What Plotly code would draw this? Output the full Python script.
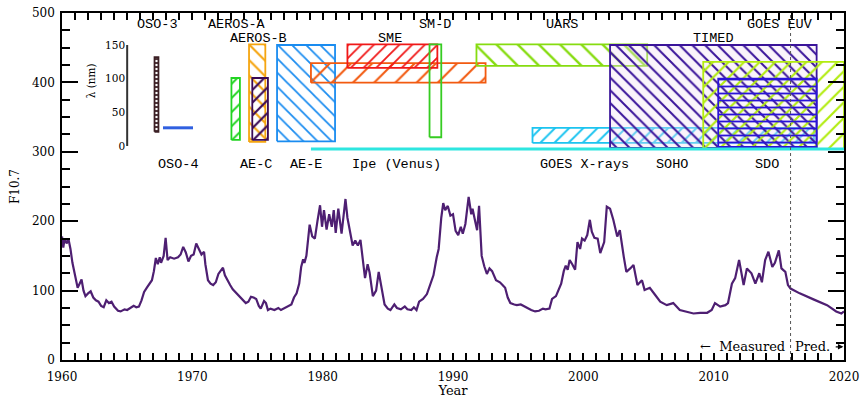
import plotly.graph_objects as go

# F10.7 solar radio flux, 1960-2020 (values after 2015.9 are the prediction)
f107_year = [
    1960.0, 1960.1, 1960.2, 1960.35, 1960.5, 1960.65, 1960.8, 1961.0, 1961.2, 1961.35,
    1961.5, 1961.65, 1961.8, 1962.0, 1962.2, 1962.4, 1962.6, 1962.8, 1963.0, 1963.2,
    1963.4, 1963.6, 1963.8, 1964.0, 1964.3, 1964.5, 1964.8, 1965.0, 1965.3, 1965.5,
    1965.7, 1965.9, 1966.1, 1966.3, 1966.5, 1966.7, 1966.9, 1967.05, 1967.2, 1967.35,
    1967.5, 1967.6, 1967.8, 1967.95, 1968.1, 1968.3, 1968.6, 1968.9, 1969.1, 1969.3,
    1969.5, 1969.7, 1969.9, 1970.1, 1970.3, 1970.5, 1970.7, 1970.9, 1971.0, 1971.2,
    1971.4, 1971.6, 1971.8, 1972.0, 1972.2, 1972.35, 1972.5, 1972.7, 1972.9, 1973.1,
    1973.3, 1973.5, 1973.7, 1973.9, 1974.1, 1974.3, 1974.5, 1974.7, 1974.9, 1975.1,
    1975.25, 1975.5, 1975.65, 1975.8, 1976.0, 1976.3, 1976.6, 1976.8, 1977.0, 1977.3,
    1977.6, 1977.8, 1978.0, 1978.2, 1978.35, 1978.5, 1978.6, 1978.75, 1978.9, 1979.0,
    1979.2, 1979.4, 1979.6, 1979.8, 1979.95, 1980.1, 1980.3, 1980.5, 1980.7, 1980.85,
    1981.0, 1981.2, 1981.45, 1981.6, 1981.75, 1981.9, 1982.1, 1982.3, 1982.5, 1982.7,
    1982.9, 1983.1, 1983.25, 1983.45, 1983.6, 1983.85, 1984.1, 1984.3, 1984.5, 1984.75,
    1985.0, 1985.2, 1985.5, 1985.7, 1986.0, 1986.3, 1986.5, 1986.8, 1987.0, 1987.2,
    1987.4, 1987.7, 1988.0, 1988.3, 1988.5, 1988.75, 1988.9, 1989.1, 1989.25, 1989.4,
    1989.6, 1989.8, 1990.0, 1990.2, 1990.4, 1990.6, 1990.75, 1990.95, 1991.2, 1991.4,
    1991.5, 1991.7, 1991.85, 1992.0, 1992.1, 1992.2, 1992.4, 1992.6, 1992.8, 1993.0,
    1993.3, 1993.6, 1993.8, 1994.0, 1994.2, 1994.4, 1994.7, 1994.9, 1995.2, 1995.4,
    1995.7, 1996.0, 1996.3, 1996.6, 1996.9, 1997.1, 1997.4, 1997.6, 1997.9, 1998.1,
    1998.3, 1998.5, 1998.65, 1998.8, 1998.95, 1999.15, 1999.37, 1999.55, 1999.75, 1999.9,
    2000.1, 2000.3, 2000.5, 2000.65, 2000.85, 2001.1, 2001.3, 2001.6, 2001.8, 2002.05,
    2002.3, 2002.6, 2002.8, 2003.1, 2003.3, 2003.6, 2003.85, 2004.15, 2004.5, 2004.7,
    2005.1, 2005.5, 2005.9, 2006.4, 2006.9, 2007.4, 2007.9, 2008.45, 2008.96, 2009.5,
    2009.85, 2010.1, 2010.5, 2010.9, 2011.1, 2011.4, 2011.65, 2011.95, 2012.3, 2012.55,
    2012.9, 2013.2, 2013.5, 2013.7, 2013.95, 2014.2, 2014.5, 2014.7, 2015.0, 2015.2,
    2015.5, 2015.7, 2015.9, 2016.6, 2017.7, 2018.7, 2019.4, 2019.8, 2020.0,
]
f107_flux = [
    178, 162, 175, 168, 174, 160, 140, 120, 104, 110,
    116, 100, 92, 96, 99, 90, 86, 84, 78, 76,
    86, 82, 84, 77, 71, 70, 73, 72, 76, 78,
    76, 77, 86, 98, 104, 110, 115, 128, 147, 138,
    148, 140, 150, 176, 144, 148, 146, 148, 152, 163,
    155, 142, 150, 152, 168, 160, 152, 156, 138, 115,
    110, 108, 112, 124, 130, 133, 122, 114, 108, 102,
    98, 93, 90, 85, 82, 84, 91, 90, 88, 78,
    74, 85, 82, 72, 74, 72, 75, 72, 74, 78,
    80, 90, 96, 110, 134, 145, 140, 150, 175, 195,
    178, 175, 200, 223, 192, 216, 188, 210, 192, 216,
    183, 218, 182, 205, 232, 205, 187, 165, 172, 165,
    173, 145, 118, 138, 126, 92, 100, 127, 108, 80,
    74, 72, 80, 75, 73, 77, 73, 72, 76, 72,
    84, 88, 95, 110, 122, 148, 160, 205, 226, 216,
    222, 208, 210, 186, 180, 192, 182, 196, 235, 210,
    218, 200, 187, 222, 180, 150, 135, 124, 132, 128,
    115, 112, 108, 104, 90, 82, 80, 79, 80, 78,
    74, 72, 70, 71, 74, 73, 74, 88, 92, 100,
    110, 128, 136, 130, 144, 138, 130, 170, 160, 175,
    172, 180, 202, 185, 176, 175, 154, 170, 221, 218,
    202, 178, 187, 149, 127, 132, 137, 108, 115, 101,
    104, 94, 84, 79, 82, 72, 70, 67, 68, 68,
    72, 82, 77, 79, 82, 110, 118, 144, 108, 132,
    125, 110, 125, 112, 144, 156, 134, 140, 158, 132,
    127, 108, 103, 96, 87, 79, 70, 67, 70,
]
prediction_start = 2015.9

# Instrument coverage boxes: years in orbit and wavelength band (nm)
cov_name = ["OSO-3", "AE-C", "AEROS-A", "AEROS-B", "AE-E", "PVO", "SME", "SM-D",
            "UARS", "GOES X-rays", "TIMED", "SDO / GOES EUV", "SDO EVE"]
cov_start = [1967.1, 1973.0, 1974.35, 1974.6, 1976.5, 1979.1, 1981.9, 1988.2,
             1991.8, 1996.1, 2002.05, 2009.2, 2010.35]
cov_end = [1967.4, 1973.65, 1975.6, 1975.8, 1980.95, 1992.5, 1988.8, 1989.1,
           2004.9, 2017.7, 2017.9, 2020.0, 2017.9]
cov_lam_lo = [21, 9, 6, 9, 7, 94, 116, 13, 119, 4.5, -3, -4.5, -1.5]
cov_lam_hi = [132, 101, 151, 101, 150, 123, 151, 151, 151, 27, 150, 125, 100]

# Single-band instruments drawn as lines: years and wavelength (nm)
line_name = ["OSO-4", "Ipe (Venus)"]
line_start = [1967.75, 1979.1]
line_end = [1970.05, 2020.0]
line_lam = [27, -4.5]

# Instrument labels: text, year of centre, row (0 = top, 1 = second, 2 = below inset)
label_text = ["OSO-3", "AEROS-A", "SM-D", "UARS", "GOES EUV",
              "AEROS-B", "SME", "TIMED",
              "OSO-4", "AE-C", "AE-E", "Ipe (Venus)", "GOES X-rays", "SOHO", "SDO"]
label_year = [1967.3, 1973.4, 1988.6, 1998.4, 2015.1,
              1975.1, 1985.2, 2010.0,
              1968.9, 1974.9, 1978.7, 1985.7, 2000.1, 2006.8, 2014.1]
label_row = [0, 0, 0, 0, 0, 1, 1, 1, 2, 2, 2, 2, 2, 2, 2]
row_lam = [181, 160, -28]

lam_ticks = [0, 50, 100, 150]

# ---- styling -------------------------------------------------------------
cov_color = ["#3b1f24", "#22d422", "#f5a510", "#3a0a55", "#1a8cf0", "#f25a10",
             "#f01818", "#36cc22", "#86dc10", "#1cc4f0", "#3a149a", "#b2ec10", "#2a14d8"]
cov_hatch = ["-", "/", "\\", "/", "\\", "/", "/", "", "\\", "/", "\\", "/", "-"]
cov_hsize = [4, 10, 11, 9, 10, 15, 9, 8, 15, 10, 9, 11, 7]
cov_solid = [0.45, 0.2, 0.2, 0.24, 0.18, 0.14, 0.2, 0.2, 0.16, 0.2, 0.22, 0.2, 0.26]
cov_bg = ["rgba(0,0,0,0)"] * 10 + ["rgba(240,222,244,0.35)", "rgba(0,0,0,0)", "rgba(0,0,0,0)"]
line_color = ["#3060e0", "#2ee6e0"]

SERIF = "DejaVu Serif"
MONO = "Liberation Mono"

fig = go.Figure()

for i, name in enumerate(cov_name):
    x0, x1 = cov_start[i], cov_end[i]
    l0, l1 = cov_lam_lo[i], cov_lam_hi[i]
    fig.add_trace(go.Scatter(
        x=[x0, x1, x1, x0, x0], y=[l0, l0, l1, l1, l0],
        mode="lines", name=name, yaxis="y2",
        line=dict(color=cov_color[i], width=1.8),
        fill="toself", fillcolor=cov_bg[i],
        fillpattern=dict(shape=cov_hatch[i], fgcolor=cov_color[i], bgcolor=cov_bg[i],
                         fgopacity=1, size=cov_hsize[i], solidity=cov_solid[i]),
        hoverinfo="skip", showlegend=False,
    ))

for i, name in enumerate(line_name):
    fig.add_trace(go.Scatter(
        x=[line_start[i], line_end[i]], y=[line_lam[i], line_lam[i]],
        mode="lines", name=name, yaxis="y2",
        line=dict(color=line_color[i], width=3),
        hoverinfo="skip", showlegend=False,
    ))

# inset wavelength axis line
fig.add_trace(go.Scatter(
    x=[1965.0, 1965.0], y=[lam_ticks[0], lam_ticks[-1]], yaxis="y2",
    mode="lines", line=dict(color="#333333", width=2),
    hoverinfo="skip", showlegend=False,
))

fig.add_trace(go.Scatter(
    x=f107_year, y=f107_flux, mode="lines", name="F10.7",
    line=dict(color="#4e1f72", width=2.2),
    hoverinfo="skip", showlegend=False,
))

fig.add_vline(x=prediction_start, line=dict(color="#555555", width=1, dash="dot"))

for t, yr, r in zip(label_text, label_year, label_row):
    fig.add_annotation(x=yr, y=row_lam[r], xref="x", yref="y2", text=t,
                       showarrow=False, font=dict(family=MONO, size=13.5, color="black"))

fig.add_annotation(x=1962.2, y=97, xref="x", yref="y2", text="λ (nm)", textangle=-90,
                   showarrow=False, font=dict(family=SERIF, size=10.5, color="black"))

fig.add_annotation(x=prediction_start - 0.25, y=19, xref="x", yref="y", text="←  Measured",
                   xanchor="right", showarrow=False, font=dict(family=SERIF, size=13, color="black"))
fig.add_annotation(x=prediction_start + 0.2, y=19, xref="x", yref="y", text="Pred.",
                   xanchor="left", showarrow=False, font=dict(family=SERIF, size=13, color="black"))
# arrow pointing towards the prediction end
fig.add_annotation(x=2019.95, y=19, ax=2019.25, ay=19, xref="x", yref="y",
                   axref="x", ayref="y", text="", showarrow=True,
                   arrowhead=2, arrowsize=0.9, arrowwidth=1.2, arrowcolor="black")

axis_common = dict(showgrid=False, zeroline=False, showline=True, linecolor="black",
                   linewidth=1.6, mirror="allticks", ticks="inside", tickcolor="black",
                   automargin=False,
                   tickfont=dict(family=SERIF, size=12, color="black"))

fig.update_layout(
    width=862, height=398,
    margin=dict(l=62, r=18, t=13, b=38, autoexpand=False),
    paper_bgcolor="white", plot_bgcolor="white",
    showlegend=False,
    xaxis=dict(range=[1960, 2020], tick0=1960, dtick=10, ticklen=7, tickwidth=1.5,
               minor=dict(dtick=1, ticklen=3.5, ticks="inside", tickcolor="black"),
               title=dict(text="Year", font=dict(family=SERIF, size=13, color="black"), standoff=4),
               ticklabelstandoff=5, **axis_common),
    yaxis=dict(range=[0, 500], tick0=0, dtick=100, ticklen=16, tickwidth=1.5,
               minor=dict(dtick=25, ticklen=8, ticks="inside", tickcolor="black"),
               title=dict(text="F10.7", font=dict(family=SERIF, size=12, color="black"), standoff=10),
               ticklabelstandoff=3, **axis_common),
    yaxis2=dict(overlaying="y", anchor="free", position=(1965.0 - 1960) / 60.0, side="left",
                range=[-317.8, 197.5], showgrid=False, zeroline=False, showline=False,
                tickvals=lam_ticks, ticks="", ticklabelstandoff=2, automargin=False,
                tickfont=dict(family=SERIF, size=10.5, color="black")),
)

fig.write_html("out.html")
